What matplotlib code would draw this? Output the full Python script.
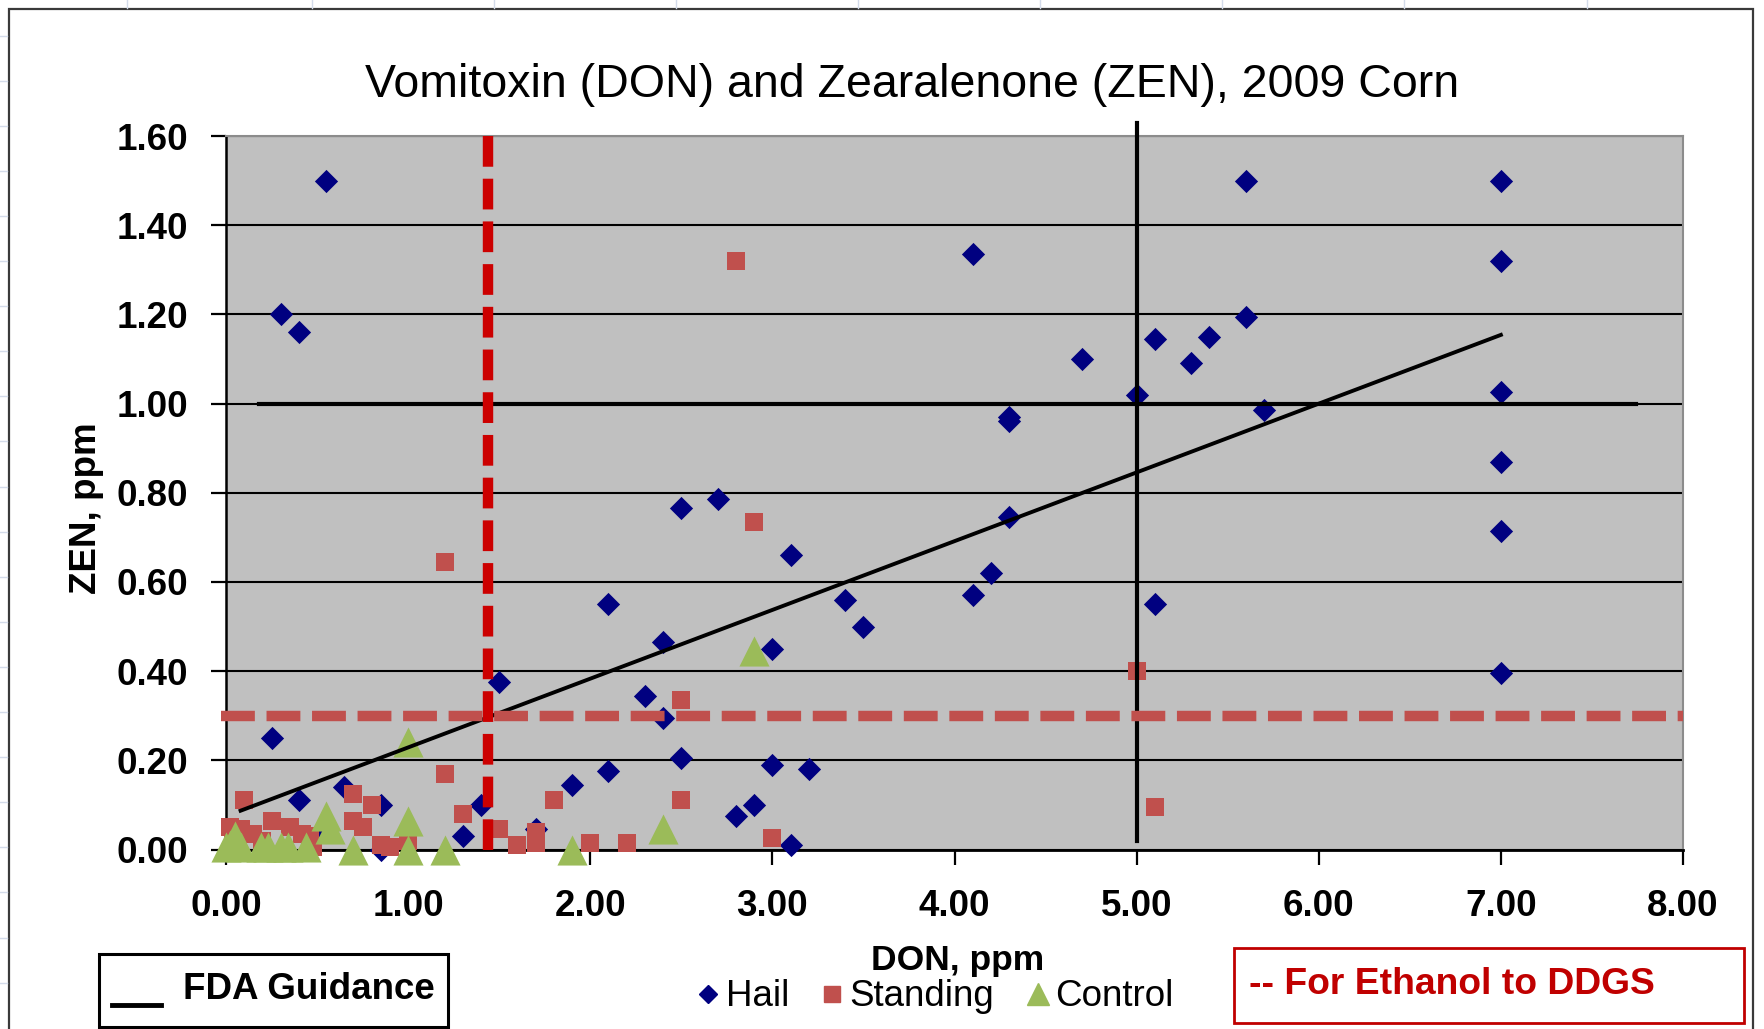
import matplotlib.pyplot as plt
from matplotlib.lines import Line2D
from matplotlib.patches import Rectangle
from matplotlib.ticker import FormatStrFormatter
import numpy as np

plt.rcParams['font.family'] = ['Liberation Sans', 'DejaVu Sans']

# --- data (DON ppm, ZEN ppm) ---
hail_don = [0.55, 0.30, 0.40, 4.10, 4.30, 4.30, 4.70, 5.00, 5.10, 5.30, 5.40, 5.60,
            7.00, 7.00, 5.60, 7.00, 5.70, 7.00, 4.30, 7.00, 4.20, 4.10, 5.10, 7.00,
            2.50, 2.70, 3.10, 2.10, 3.40, 3.50, 2.40, 3.00, 1.50, 2.30, 2.40, 2.50,
            3.00, 3.20, 2.10, 1.90, 1.40, 2.90, 2.80, 1.30, 1.70, 3.10, 0.25, 0.40,
            0.65, 0.85, 0.55, 0.85]
hail_zen = [1.50, 1.20, 1.16, 1.335, 0.97, 0.96, 1.10, 1.02, 1.145, 1.09, 1.15, 1.50,
            1.50, 1.32, 1.195, 1.025, 0.985, 0.87, 0.745, 0.714, 0.62, 0.57, 0.55, 0.395,
            0.765, 0.785, 0.66, 0.55, 0.56, 0.50, 0.465, 0.45, 0.375, 0.345, 0.295, 0.205,
            0.19, 0.18, 0.175, 0.145, 0.10, 0.10, 0.075, 0.03, 0.045, 0.01, 0.25, 0.11,
            0.14, 0.10, 0.04, 0.00]

standing_don = [2.80, 2.90, 1.20, 2.50, 1.20, 2.50, 1.80, 1.30, 1.50, 1.60, 1.70, 1.70,
                2.00, 2.20, 3.00, 5.00, 5.10, 0.10, 0.70, 0.80, 0.25, 0.02, 0.70, 0.75,
                0.35, 0.15, 0.08, 0.42, 0.46, 0.85, 0.90, 1.00, 0.48, 0.04, 0.20]
standing_zen = [1.32, 0.735, 0.645, 0.335, 0.17, 0.11, 0.11, 0.08, 0.045, 0.01, 0.04, 0.015,
                0.015, 0.015, 0.025, 0.40, 0.095, 0.11, 0.125, 0.10, 0.065, 0.05, 0.065, 0.05,
                0.05, 0.035, 0.045, 0.035, 0.03, 0.01, 0.005, 0.02, 0.005, 0.02, 0.02]

control_don = [2.90, 2.40, 1.90, 1.20, 1.00, 0.55, 0.57, 1.00, 1.00, 0.70,
               0.00, 0.05, 0.08, 0.19, 0.23, 0.30, 0.34, 0.44, 0.02]
control_zen = [0.445, 0.045, 0.00, 0.00, 0.24, 0.075, 0.045, 0.065, 0.00, 0.00,
               0.005, 0.03, 0.005, 0.005, 0.005, 0.005, 0.005, 0.005, 0.01]

trend_don = [0.08, 7.00]
trend_zen = [0.087, 1.154]

fda_zen = 1.00
fda_zen_span = [0.18, 7.74]
fda_don = 5.00
fda_don_span = [0.02, 1.63]
ethanol_don = 1.44
ethanol_zen = 0.30

W, H = 1764, 1029
fig = plt.figure(figsize=(W / 100, H / 100), dpi=100)
fig.patch.set_facecolor('white')

# faint spreadsheet cell lines around the chart object
for x in [127, 312, 494, 676, 858, 1040, 1222, 1404, 1587]:
    fig.add_artist(Line2D([x / W, x / W], [1 - 8 / H, 1], color='#d3dbea', lw=1))
for k in range(22):
    y = 35.5 + 45.1 * k
    fig.add_artist(Line2D([0, 7 / W], [1 - y / H, 1 - y / H], color='#d3dbea', lw=1))

# chart border
fig.add_artist(Rectangle((9 / W, -0.02), (1753 - 9) / W, (H - 9) / H + 0.02,
                         transform=fig.transFigure, fill=False,
                         edgecolor='#3a3a3a', lw=1.6))

ax = fig.add_axes([226 / W, 1 - 849.5 / H, (1683 - 226) / W, (849.5 - 136) / H])
ax.set_facecolor('#c0c0c0')
ax.set_xlim(0, 8)
ax.set_ylim(0, 1.6)
ax.set_xticks(np.arange(0, 8.01, 1.0))
ax.set_yticks(np.arange(0, 1.601, 0.2))
ax.xaxis.set_major_formatter(FormatStrFormatter('%.2f'))
ax.yaxis.set_major_formatter(FormatStrFormatter('%.2f'))
ax.tick_params(axis='both', direction='out', length=10.5, width=1.6,
               labelsize=26.5, colors='black')
ax.tick_params(axis='y', pad=17)
ax.tick_params(axis='x', pad=18)
for lbl in ax.get_xticklabels() + ax.get_yticklabels():
    lbl.set_fontweight('bold')

ax.yaxis.grid(True, color='black', lw=1.5)
ax.set_axisbelow(True)
for side in ['top', 'right']:
    ax.spines[side].set_color('#8c8c8c')
    ax.spines[side].set_linewidth(1.5)
ax.spines['left'].set_linewidth(1.8)
ax.spines['bottom'].set_linewidth(2.0)

ax.scatter(hail_don, hail_zen, marker='D', s=140, color='#000080',
           linewidths=0, clip_on=False, zorder=3)
ax.scatter(standing_don, standing_zen, marker='s', s=150, color='#c0504d',
           linewidths=0, clip_on=False, zorder=4)
ax.scatter(control_don, control_zen, marker='^', s=470, color='#9bbb59',
           linewidths=0, clip_on=False, zorder=5)

# trend line
ax.plot(trend_don, trend_zen, color='black', lw=2.8, zorder=6)

# FDA guidance lines
ax.plot(fda_zen_span, [fda_zen, fda_zen], color='black', lw=3, zorder=6)
ax.plot([fda_don, fda_don], fda_don_span, color='black', lw=3, zorder=6, clip_on=False)

# ethanol to DDGS lines
ax.plot([ethanol_don, ethanol_don], [1.6, 0.0], color='#cc0000', lw=7.5,
        dashes=(2.95, 1.15), zorder=7)
ax.plot([-0.03, 8.0], [ethanol_zen, ethanol_zen], color='#c0504d', lw=7.5,
        dashes=(3.25, 1.12), zorder=7, clip_on=False)

# titles
fig.text(912 / W, 1 - 97 / H, 'Vomitoxin (DON) and Zearalenone (ZEN), 2009 Corn',
         ha='center', va='baseline', fontsize=33.5)
fig.text(958 / W, 1 - 970 / H, 'DON, ppm', ha='center', va='baseline',
         fontsize=25.5, fontweight='bold')
fig.text(87 / W, 1 - 508 / H, 'ZEN, ppm', ha='center', va='center', rotation=90,
         fontsize=26.5, fontweight='bold')

# series legend
handles = [Line2D([], [], marker='D', color='#000080', ls='none', ms=9),
           Line2D([], [], marker='s', color='#c0504d', ls='none', ms=11.5),
           Line2D([], [], marker='^', color='#9bbb59', ls='none', ms=16)]
fig.legend(handles, ['Hail', 'Standing', 'Control'], ncol=3, loc='center',
           bbox_to_anchor=(934 / W, 1 - 997 / H), frameon=False, fontsize=26.5,
           handlelength=0.75, handletextpad=0.1, columnspacing=0.8, borderpad=0)

# FDA guidance box
fig.add_artist(Rectangle((99 / W, 1 - 1027 / H), (448 - 99) / W, (1027 - 954) / H,
                         transform=fig.transFigure, fill=False, edgecolor='black', lw=2.2))
fig.add_artist(Line2D([112 / W, 161 / W], [1 - 1005 / H, 1 - 1005 / H],
                      color='black', lw=3.5))
fig.text(183 / W, 1 - 999 / H, 'FDA Guidance', ha='left', va='baseline',
         fontsize=26.5, fontweight='bold')

# ethanol box
fig.add_artist(Rectangle((1234 / W, 1 - 1023 / H), (1744 - 1234) / W, (1023 - 948) / H,
                         transform=fig.transFigure, fill=False, edgecolor='#c00000', lw=2))
fig.text(1249 / W, 1 - 994 / H, '-- For Ethanol to DDGS', ha='left', va='baseline',
         fontsize=26.8, fontweight='bold', color='#c00000')

fig.savefig('out.png', dpi=100, facecolor='white')
